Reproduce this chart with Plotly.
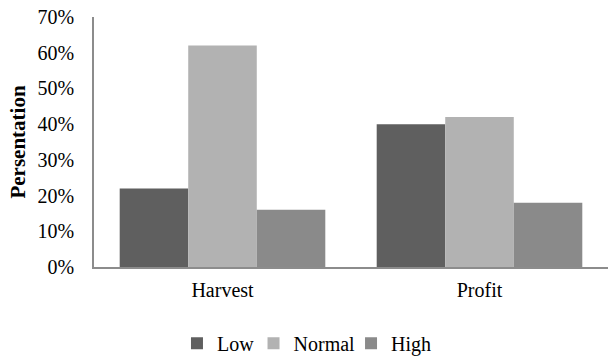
import plotly.graph_objects as go

categories = ["Harvest", "Profit"]
series_names = ["Low", "Normal", "High"]
low = [0.22, 0.40]
normal = [0.62, 0.42]
high = [0.16, 0.18]
colors = ["#5f5f5f", "#b2b2b2", "#8a8a8a"]
legend_ids = ["legend", "legend2", "legend3"]
legend_x = [0.2906, 0.4163, 0.5764]

fam = "Liberation Serif, Times New Roman, serif"
font = dict(family=fam, size=20, color="#000000")

fig = go.Figure()
for name, vals, c, lid in zip(series_names, [low, normal, high], colors, legend_ids):
    fig.add_trace(go.Bar(name=name, x=categories, y=vals, legend=lid,
                         marker=dict(color=c, line=dict(width=0))))

legend_common = dict(orientation="h", xref="container", yref="container",
                     xanchor="left", y=0.036, yanchor="middle",
                     font=dict(family=fam, size=20, color="#000000"),
                     itemwidth=30, bgcolor="rgba(0,0,0,0)")

fig.update_layout(
    width=609, height=356,
    margin=dict(l=94, r=1, t=17, b=89, autoexpand=False),
    paper_bgcolor="white", plot_bgcolor="white",
    barmode="group", bargap=0.2, bargroupgap=0,
    font=font,
    showlegend=True,
    legend=dict(x=legend_x[0], **legend_common),
    legend2=dict(x=legend_x[1], **legend_common),
    legend3=dict(x=legend_x[2], **legend_common),
    xaxis=dict(showline=True, linecolor="#8c8c8c", linewidth=1.5, ticks="outside",
               ticklen=4, tickcolor="rgba(0,0,0,0)", showgrid=False, automargin=False,
               tickfont=font),
    yaxis=dict(range=[0, 0.7], dtick=0.1, tickformat=".0%", showline=True, linecolor="#8c8c8c",
               linewidth=1.5, showgrid=False, zeroline=False, ticks="outside", ticklen=14,
               tickcolor="rgba(0,0,0,0)", automargin=False,
               tickfont=font,
               title=dict(text="<b>Persentation</b>", font=dict(family=fam, size=21, color="#000000"), standoff=6)),
)
fig.write_html("out.html", config={"displayModeBar": False},
               post_script="document.body.style.margin='0';document.body.style.overflow='hidden';")
